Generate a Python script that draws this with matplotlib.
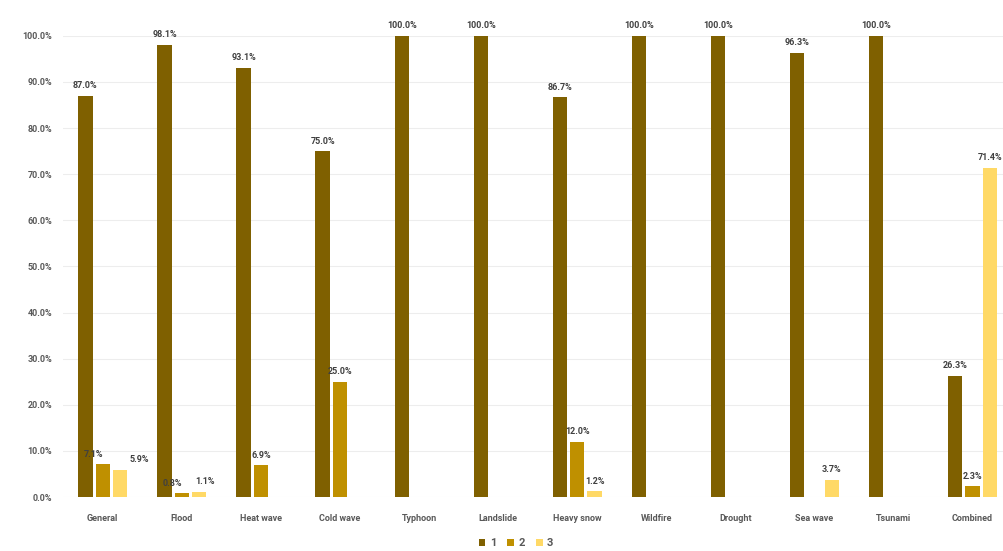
import numpy as np
import matplotlib.pyplot as plt

plt.rcParams['font.family'] = ['Roboto', 'DejaVu Sans']

categories = ["General", "Flood", "Heat wave", "Cold wave", "Typhoon", "Landslide",
              "Heavy snow", "Wildfire", "Drought", "Sea wave", "Tsunami", "Combined"]
# share of each level per hazard type, in percent (None = no bar)
level1 = [87.0, 98.1, 93.1, 75.0, 100.0, 100.0, 86.7, 100.0, 100.0, 96.3, 100.0, 26.3]
level2 = [7.1, 0.8, 6.9, 25.0, None, None, 12.0, None, None, None, None, 2.3]
level3 = [5.9, 1.1, None, None, None, None, 1.2, None, None, 3.7, None, 71.4]
series_names = ["1", "2", "3"]
colors = ["#7F6000", "#BF9000", "#FFD966"]

# small horizontal nudges (points) for labels that would otherwise collide
nudge = {(1, 0): -7, (2, 0): 14, (1, 1): -7, (2, 1): 4}

fig = plt.figure(figsize=(10.04, 5.51), dpi=100)
ax = fig.add_axes([0.063, 0.098, 0.945, 0.837])

x = np.arange(len(categories))
width = 0.18
offsets = [-0.22, 0.0, 0.22]

for s, (vals, off, col, name) in enumerate(zip([level1, level2, level3], offsets, colors, series_names)):
    idx = [i for i, v in enumerate(vals) if v is not None]
    xs = [x[i] + off for i in idx]
    ys = [vals[i] / 100 for i in idx]
    ax.bar(xs, ys, width=width, color=col, label=name, zorder=3)
    for i, xi, yi in zip(idx, xs, ys):
        ax.annotate(f"{yi * 100:.1f}%", (xi, yi), xytext=(nudge.get((s, i), 0), 4),
                    textcoords="offset points", ha="center", va="bottom", fontsize=6.5,
                    fontweight="bold", color="#404040", annotation_clip=False, zorder=4)

ax.set_xlim(-0.5, len(categories) - 0.5)
ax.set_ylim(0, 1.0)
ax.set_yticks(np.arange(0, 1.01, 0.1))
ax.set_yticklabels([f"{t * 100:.1f}%" for t in np.arange(0, 1.01, 0.1)])
ax.set_xticks(x)
ax.set_xticklabels(categories)
ax.tick_params(axis="both", length=0, labelsize=6.5, labelcolor="#595959")
ax.tick_params(axis="x", pad=12)
ax.tick_params(axis="y", pad=8)
for lbl in ax.get_xticklabels() + ax.get_yticklabels():
    lbl.set_fontweight("bold")

ax.yaxis.grid(True, color="#EDEDED", linewidth=0.8, zorder=0)
for sp in ax.spines.values():
    sp.set_visible(False)

leg = fig.legend(loc="center", bbox_to_anchor=(0.514, 0.014), ncol=3, frameon=False,
                 fontsize=8, handlelength=0.6, handleheight=0.6, handletextpad=0.4,
                 columnspacing=1.0)
for t in leg.get_texts():
    t.set_color("#595959")
    t.set_fontweight("bold")

fig.savefig("out.png", dpi=100)
